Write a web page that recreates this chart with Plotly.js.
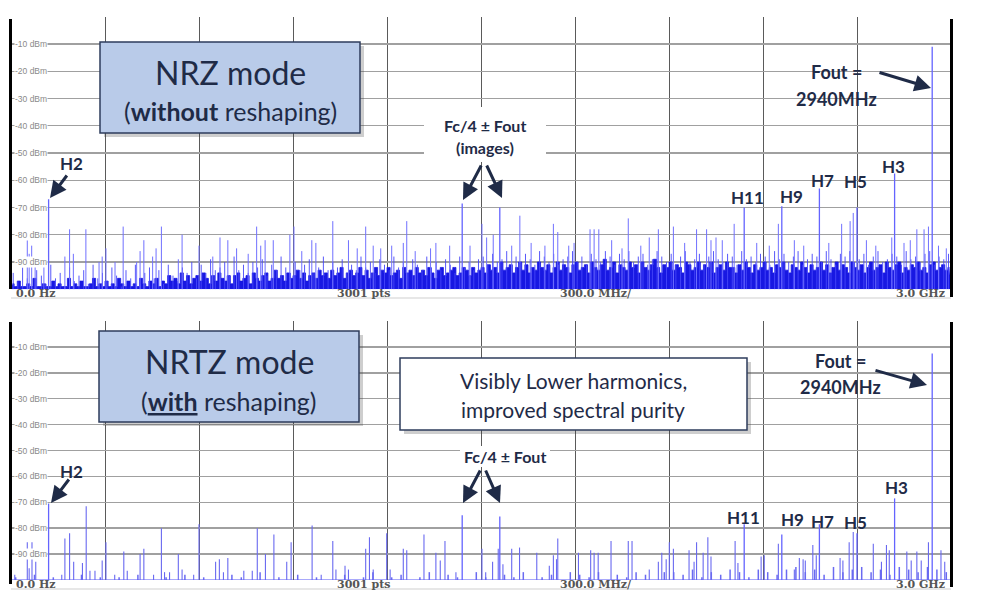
<!DOCTYPE html>
<html><head><meta charset="utf-8">
<script src="https://cdn.plot.ly/plotly-3.0.1.min.js"></script>
<style>html,body{margin:0;padding:0;background:#fff;}#chart{width:993px;height:596px;}</style>
</head><body><div id="chart"></div>
<script>
// ---------------- DATA (frequency in MHz, level in dBm) ----------------
const floorStepTop = 10;           // MHz between floor bins (top panel)
const topFloorV = [
-98,-99,-97,-99,-99,-98,-99,-96,-99,-99,-98,-99,-99,-97,-99,-98,-99,-99,-96,-99,
-98,-99,-97,-99,-99,-98,-96,-99,-98,-99,-97,-99,-98,-99,-96,-98,-99,-97,-99,-98,
-99,-96,-98,-99,-97,-98,-96,-99,-97,-98,
-95,-97,-96,-98,-94,-97,-95,-98,-96,-95,-97,-94,-96,-98,-95,-97,-94,-96,-97,-95,
-98,-95,-94,-97,-96,-95,-98,-94,-96,-97,-95,-94,-97,-96,-93,-96,-95,-97,-94,-96,
-95,-93,-96,-94,-97,-95,-94,-96,-93,-95,
-94,-96,-93,-95,-94,-92,-96,-94,-93,-95,-94,-92,-95,-93,-96,-94,-92,-95,-93,-94,
-92,-95,-94,-93,-96,-92,-94,-93,-95,-92,-94,-93,-95,-92,-94,-96,-93,-92,-95,-94,
-93,-92,-95,-94,-92,-93,-95,-92,-94,-93,
-92,-94,-91,-93,-92,-94,-90,-93,-92,-91,-94,-92,-90,-93,-91,-94,-92,-93,-90,-92,
-93,-91,-94,-92,-90,-93,-91,-92,-94,-91,-90,-93,-92,-91,-94,-90,-92,-93,-91,-89,
-93,-92,-90,-94,-91,-92,-93,-90,-92,-91,-94,-90,-92,-93,-91,-89,-92,-94,-91,-92,
-90,-93,-91,-92,-94,-90,-91,-93,-92,-90,-93,-91,-92,-90,-94,-92,-91,-93,-90,-92,
-92,-94,-91,-93,-90,-92,-94,-91,-93,-92,-90,-93,-92,-94,-91,-92,-90,-93,-94,-91,
-92,-93,-90,-92,-94,-91,-93,-92,-90,-93,-91,-94,-92,-90,-93,-91,-92,-94,-90,-92,
-93,-91,-94,-92,-90,-93,-92,-91,-94,-90,-92,-93,-91,-90,-94,-92,-93,-91,-92,-90,
-93,-92,-94,-91,-90,-93,-92,-91,-93,-92];

const grassStepTop = 15;           // MHz between noise "grass" lines (top panel)
const topGrassV = [
-94,-97,-92,-96,-99,-93,-95,-98,-91,-96,-94,-99,-92,-97,-95,-93,-98,-91,-96,-94,
-97,-92,-95,-99,-93,-96,-91,-98,-94,-92,-96,-93,-98,-91,-95,-97,-92,-94,-90,-96,
-91,-94,-89,-93,-92,-90,-95,-88,-93,-91,-94,-90,-92,-89,-95,-91,-93,-88,-92,-94,
-90,-93,-91,-89,-94,-92,-88,-93,-90,-92,-89,-94,-91,-93,-88,-92,-90,-94,-89,-91,
-93,-88,-92,-90,-94,-89,-91,-93,-88,-92,-90,-93,-89,-91,-94,-88,-92,-90,-93,-89,
-88,-91,-87,-90,-89,-86,-91,-88,-90,-87,-89,-91,-86,-88,-90,-87,-91,-89,-88,-86,
-90,-88,-91,-87,-89,-90,-86,-88,-91,-87,-89,-86,-90,-88,-87,-91,-89,-86,-88,-90,
-87,-91,-88,-86,-90,-89,-87,-91,-88,-86,-89,-90,-87,-88,-91,-86,-89,-88,-90,-87,
-88,-91,-86,-89,-87,-90,-88,-86,-91,-89,-87,-88,-90,-86,-89,-91,-87,-88,-86,-90,
-89,-87,-91,-88,-86,-90,-89,-87,-88,-91,-86,-89,-88,-90,-87,-86,-91,-88,-89,-87];

const topSpurF = [52,58,66,77,105,172,187,199,239,281,291,303,332,358,401,412,424,452,463,480,
534,546,600,644,667,692,720,757,784,797,811,837,890,903,928,960,973,1027,1077,1105,
1132,1156,1215,1252,1263,1339,1356,1465,1503,1518,1539,1598,1624,1704,1731,1745,1797,1848,1861,1876,
1917,1970,2037,2066,2114,2188,2220,2234,2250,2308,2449,2651,2678,2688,2811,2891,2914,2928,
2380,2420,2500,2530,2610,2730,2760,2850,2870,2960,2985,1400,1290,1180,2150,2270,2010,1950,1660,1780];
const topSpurV = [-80,-87,-84,-91,-90,-88,-78,-87,-78,-90,-88,-85,-90,-77,-90,-86,-82,-88,-85,-77,
-89,-80,-84,-88,-81,-82,-85,-87,-77,-84,-82,-82,-80,-77,-86,-82,-83,-75,-82,-85,
-77,-84,-84,-83,-75,-85,-83,-84,-76,-81,-80,-84,-73,-84,-76,-79,-83,-78,-78,-78,
-82,-74,-81,-78,-77,-78,-78,-82,-81,-76,-76,-76,-75,-72,-81,-78,-78,-77,
-83,-84,-82,-84,-83,-82,-84,-83,-82,-84,-85,-84,-86,-85,-83,-82,-84,-85,-83,-84];

const bottomFloorStep = 30;
const bottomFloorV = [
-99,-100,-98,-100,-99,-100,-100,-98,-100,-99,-100,-99,-100,-98,-100,-100,-99,-100,-98,-100,
-99,-100,-100,-98,-99,-100,-97,-100,-99,-100,-98,-100,-99,-100,-100,-98,-100,-99,-97,-100,
-99,-98,-100,-99,-97,-100,-98,-99,-100,-97,-99,-100,-98,-99,-97,-100,-99,-98,-100,-97,
-98,-99,-97,-100,-98,-99,-97,-98,-100,-97,
-97,-98,-96,-99,-97,-98,-96,-97,-99,-96,-97,-98,-96,-95,-97,-96,-98,-95,-97,-96,
-95,-97,-96,-98,-95,-96,-97,-95,-96,-97];

const bottomSpurF = [12,52,58,67,79,162,172,187,200,228,240,252,268,291,303,331,360,371,412,424,
455,480,490,506,534,546,583,600,653,665,678,692,743,770,786,812,839,880,894,961,
990,1027,1037,1066,1077,1132,1144,1156,1199,1210,1252,1263,1318,1356,1370,1385,1420,1503,1515,1537,
1555,1570,1598,1623,1678,1718,1731,1741,1745,1811,1850,1861,1874,1915,1970,1982,2037,2066,2077,2091,
2101,2114,2164,2180,2188,2209,2224,2234,2311,2320,2394,2404,2449,2500,2516,2528,2535,2559,2570,2646,
2655,2675,2688,2752,2778,2794,2803,2859,2873,2891,2905,2928,2968,2980];
const bottomSpurV = [-98,-85.5,-95.5,-85.5,-93,-98,-84,-82,-93,-93.5,-71.5,-96.5,-96.5,-92.5,-85.5,-98,-89,-96.5,-90,-88,
-98,-80,-97,-97,-90,-96,-98,-78.5,-93,-92,-97,-91.5,-96.5,-96.5,-80,-90,-82.5,-93,-85.5,-79,
-98,-85,-96,-94.5,-96,-88,-83.5,-96,-82,-96,-88,-88.5,-82.5,-89.5,-92.5,-85,-97,-88,-97,-93,
-88,-94,-88,-87.5,-89.5,-94.5,-90.5,-92,-84,-89.5,-88.5,-89.5,-89.5,-85,-85,-85,-96,-93,-89.5,-92,
-85.5,-88,-88.5,-93,-85.5,-89.5,-83.5,-91,-85,-93.5,-91,-90.5,-86,-96,-91.5,-92,-92.5,-86.5,-90.5,-91.5,
-92.5,-85.5,-81.5,-86,-93,-86.5,-88.5,-89,-92.5,-89,-92.5,-85.5,-88.5,-93];

// named tones: H2, Fc/4-Fout, Fc/4+Fout, H11, H9, H7, H5, H3, Fout
const toneF    = [120,1440,1560,2340,2460,2580,2700,2820,2940];
const toneTopV = [-67,-68.5,-70,-70,-69.5,-63,-70,-57.5,-11];
const toneBotV = [-70.5,-75,-75.5,-78.5,-82.5,-78.5,-82,-68.5,-12.5];

const yTickVals  = [-10,-20,-30,-40,-50,-60,-70,-80,-90];
const yTickText  = ['-10 dBm','-20 dBm','-30 dBm','-40 dBm','-50 dBm','-60 dBm','-70 dBm','-80 dBm','-90 dBm'];
const footLabels = ['0.0 Hz','3001 pts','300.0 MHz/','3.0 GHz'];
const harmLabels = ['H11','H9','H7','H5','H3'];

// ---------------- BUILD ----------------
const H = 596, L = 11, R = 951;
const px = x => (x - L) / (R - L);
const py = y => 1 - y / H;
const NAVY = '#1f2b47';

function stems(fs, vs){
  const x=[], y=[];
  fs.forEach((f,i)=>{ x.push(f,f,null); y.push(-100, vs[i], null); });
  return {x, y};
}
const topFloorF = topFloorV.map((_,i)=> floorStepTop/2 + i*floorStepTop);
const topGrassF = topGrassV.map((_,i)=> 7 + i*grassStepTop);
const botFloorF = bottomFloorV.map((_,i)=> bottomFloorStep/2 + i*bottomFloorStep);

const traces = [];
traces.push({type:'scatter', mode:'lines', x:[0,3000], y:[-100,-100], line:{width:0, color:'rgba(0,0,0,0)'}, xaxis:'x', yaxis:'y', hoverinfo:'skip'});
traces.push({type:'scatter', mode:'lines', x: topFloorF, y: topFloorV, line:{shape:'hvh', color:'rgb(24,24,226)', width:0.8},
  fill:'tonexty', fillcolor:'rgb(24,24,226)', xaxis:'x', yaxis:'y', hoverinfo:'skip'});
const g = stems(topGrassF, topGrassV);
traces.push({type:'scatter', mode:'lines', x:g.x, y:g.y, line:{color:'rgba(70,70,250,0.9)', width:1}, xaxis:'x', yaxis:'y', hoverinfo:'skip'});
const s1 = stems(topSpurF, topSpurV);
traces.push({type:'scatter', mode:'lines', x:s1.x, y:s1.y, line:{color:'rgb(112,112,255)', width:1}, xaxis:'x', yaxis:'y', hoverinfo:'skip'});
const t1 = stems(toneF, toneTopV);
traces.push({type:'scatter', mode:'lines', x:t1.x, y:t1.y, line:{color:'rgb(100,100,255)', width:1.3}, xaxis:'x', yaxis:'y', hoverinfo:'skip'});

const bf = stems(botFloorF, bottomFloorV);
traces.push({type:'scatter', mode:'lines', x:bf.x, y:bf.y, line:{color:'rgba(90,90,240,0.9)', width:1.5}, xaxis:'x2', yaxis:'y2', hoverinfo:'skip'});
const s2 = stems(bottomSpurF, bottomSpurV);
traces.push({type:'scatter', mode:'lines', x:s2.x, y:s2.y, line:{color:'rgb(105,105,240)', width:1.1}, xaxis:'x2', yaxis:'y2', hoverinfo:'skip'});
const t2 = stems(toneF, toneBotV);
traces.push({type:'scatter', mode:'lines', x:t2.x, y:t2.y, line:{color:'rgb(100,100,255)', width:1.3}, xaxis:'x2', yaxis:'y2', hoverinfo:'skip'});

const xAx = a => Object.assign({range:[0,3000], dtick:300, tick0:0, showgrid:true, gridcolor:'#5a5a5a', gridwidth:1,
  showticklabels:false, zeroline:false, showline:false, ticks:'', fixedrange:true}, a);
const yAx = a => Object.assign({range:[-100,0], tickmode:'array', tickvals:yTickVals, showgrid:true, gridcolor:'#a0a0a0', gridwidth:1.3,
  showticklabels:false, zeroline:false, showline:false, ticks:'', fixedrange:true}, a);

const shapes = [], ann = [];
function rectPx(x0,y0,x1,y1,fill,line,lw){
  shapes.push({type:'rect', xref:'paper', yref:'paper', x0:px(x0), x1:px(x1), y0:py(y1), y1:py(y0),
    fillcolor:fill, line:{color:line||fill, width:lw||0}, layer:'above'});
}
function linePx(x0,y0,x1,y1,color,w){
  shapes.push({type:'line', xref:'paper', yref:'paper', x0:px(x0), x1:px(x1), y0:py(y0), y1:py(y1), line:{color, width:w}, layer:'above'});
}
function textPx(t,x,y,size,bold,opts){
  ann.push(Object.assign({xref:'paper', yref:'paper', x:px(x), y:py(y), text:bold?'<b>'+t+'</b>':t, showarrow:false,
    xanchor:'center', yanchor:'middle', font:{family:'Lato, "Open Sans", sans-serif', size, color:NAVY}}, opts||{}));
}
function arrowPx(hx,hy,tx,ty){
  ann.push({xref:'paper', yref:'paper', x:px(hx), y:py(hy), ax:tx-hx, ay:ty-hy, text:'', showarrow:true,
    arrowhead:2, arrowsize:1.1, arrowwidth:3, arrowcolor:NAVY, standoff:0});
}

// borders & baselines
linePx(10.5,19,10.5,289,'#000',3); linePx(951.5,19,951.5,297,'#000',3);
linePx(10.5,322,10.5,584,'#000',3); linePx(951.5,322,951.5,587,'#000',3);
linePx(11,298,951,298,'#cfcfcf',1); linePx(11,589,951,589,'#cfcfcf',1);
shapes.push({type:'line', xref:'x2', yref:'y2', x0:0, x1:3000, y0:-100, y1:-100, line:{color:'rgb(140,140,250)', width:1.5}, layer:'below'});

// y tick labels (inside, left)
yTickVals.forEach((v,i)=>{
  ['y','y2'].forEach(yr=>{
    ann.push({xref:'paper', yref:yr, x:px(14), y:v, text:yTickText[i], showarrow:false, xanchor:'left', yanchor:'middle',
      bgcolor:'#ffffff', borderpad:0, font:{family:'Liberation Sans, Arial', size:8.5, color:'#8a8a8a'}});
  });
});
// footer labels
[293,584].forEach(yy=>{
  const f = {family:'DejaVu Serif, serif', size:11, color:'#555'};
  ann.push({xref:'paper', yref:'paper', x:px(14), y:py(yy), text:'<b>'+footLabels[0]+'</b>', showarrow:false, xanchor:'left', yanchor:'middle', font:f});
  ann.push({xref:'paper', yref:'paper', x:px(335), y:py(yy), text:'<b>'+footLabels[1]+'</b>', showarrow:false, xanchor:'left', yanchor:'middle', font:f});
  ann.push({xref:'paper', yref:'paper', x:px(558), y:py(yy), text:'<b>'+footLabels[2]+'</b>', showarrow:false, xanchor:'left', yanchor:'middle', font:f});
  ann.push({xref:'paper', yref:'paper', x:px(947), y:py(yy), text:'<b>'+footLabels[3]+'</b>', showarrow:false, xanchor:'right', yanchor:'middle', font:f});
});

// ---- top panel callouts
rectPx(104,46,364,137,'rgba(60,60,60,0.25)');
rectPx(100,42,360,133,'#b9cbe9','#2e3d5c',1.5);
textPx('NRZ mode',230,72,32,false);
textPx('(<b>without</b> reshaping)',230,111,25,false);
rectPx(424,107,546,162,'#ffffff');
textPx('Fc/4 ± Fout',485,126,16,true);
textPx('(images)',485,148,16,true);
arrowPx(463,200,482,164); arrowPx(502,198,486,164);
textPx('H2',71,163,17,true); arrowPx(50,198,68,174);
textPx('Fout =',836,72,18,true); textPx('2940MHz',836,99,18,true); arrowPx(931,88,878,72);
[[747,197],[791,196],[822,180],[855,182],[893,166]].forEach((p,i)=>textPx(harmLabels[i],p[0],p[1],17,true));

// ---- bottom panel callouts
rectPx(103,335,363,426,'rgba(60,60,60,0.25)');
rectPx(99,331,359,422,'#b9cbe9','#2e3d5c',1.5);
textPx('NRTZ mode',229,361,32,false);
textPx('(<b><u>with</u></b> reshaping)',229,401,25,false);
rectPx(404,362,751,434,'rgba(60,60,60,0.25)');
rectPx(400,358,747,430,'#ffffff','#2e3d5c',1.5);
textPx('Visibly Lower harmonics,',573,380,21,false);
textPx('improved spectral purity',573,410,21,false);
rectPx(460,446,550,467,'#ffffff');
textPx('Fc/4 ± Fout',505,456,16,true);
arrowPx(463,503,481,469); arrowPx(500,503,485,469);
textPx('H2',71,471,17,true); arrowPx(51,503,70,478);
textPx('Fout =',840,361,18,true); textPx('2940MHz',840,387,18,true); arrowPx(927,385,874,370);
[[743,517],[792,519],[822,521],[855,522],[896,487]].forEach((p,i)=>textPx(harmLabels[i],p[0],p[1],17,true));

const layout = {
  width:993, height:596, margin:{l:11, r:42, t:0, b:0}, paper_bgcolor:'#fff', plot_bgcolor:'#fff',
  showlegend:false,
  xaxis: xAx({anchor:'y'}), yaxis: yAx({domain:[py(289.25), py(16.75)], anchor:'x'}),
  xaxis2: xAx({anchor:'y2'}), yaxis2: yAx({domain:[py(579.9), py(321.1)], anchor:'x2'}),
  shapes, annotations: ann
};
Plotly.newPlot('chart', traces, layout, {displayModeBar:false, staticPlot:true});
</script></body></html>
